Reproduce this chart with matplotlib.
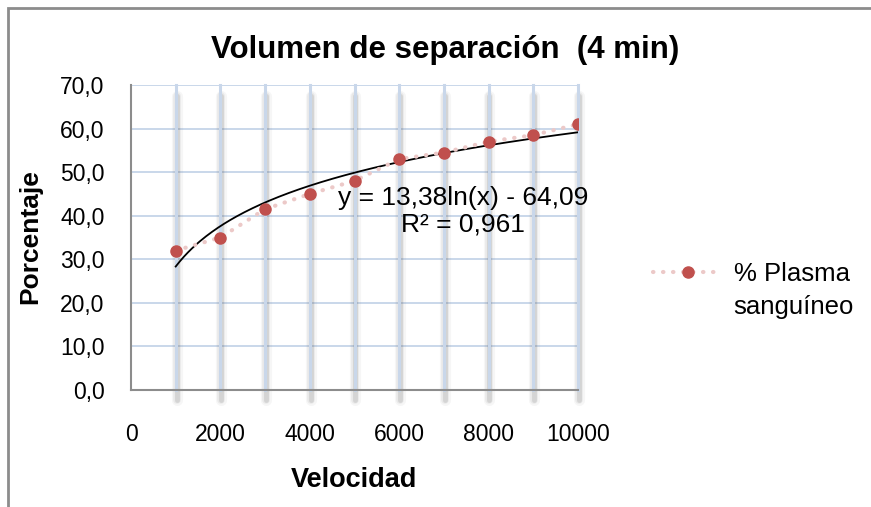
import numpy as np
import matplotlib
matplotlib.use("Agg")
import matplotlib.pyplot as plt
from matplotlib.patches import Rectangle

plt.rcParams['font.family'] = ['Liberation Sans', 'DejaVu Sans']

velocidad = [1000, 2000, 3000, 4000, 5000, 6000, 7000, 8000, 9000, 10000]
plasma = [32.0, 35.0, 41.5, 45.0, 48.0, 53.0, 54.5, 57.0, 58.5, 61.0]
x_ticks = [0, 2000, 4000, 6000, 8000, 10000]
y_ticks = [0, 10, 20, 30, 40, 50, 60, 70]

fig = plt.figure(figsize=(8.71, 5.07), dpi=100)
ax = fig.add_axes([131/871, 1 - 390/507, (578 - 131)/871, (390 - 85)/507])

ax.set_xlim(0, 10000)
ax.set_ylim(0, 70)

# horizontal gridlines
for yv in y_ticks[1:]:
    ax.axhline(yv, color='#c9d7ea', lw=1.4, zorder=1)

# vertical gridlines with soft shadow
for xv in velocidad:
    for w, a in [(8, 0.05), (5.5, 0.08), (3.5, 0.14)]:
        ax.plot([xv + 20, xv + 20], [67.5, -2.4], color='#555555', lw=w, alpha=a,
                solid_capstyle='round', clip_on=False, zorder=1)
    ax.plot([xv, xv], [0, 70], color='#c9d7ea', lw=2.2, zorder=2, clip_on=False)

# trendline (logarithmic fit)
a, b = np.polyfit(np.log(velocidad), plasma, 1)
xs = np.linspace(velocidad[0], velocidad[-1], 200)
ax.plot(xs, a * np.log(xs) + b, color='black', lw=1.3, zorder=4)

ax.plot(velocidad, plasma, color='#ecc9c8', lw=3, ls=(0, (0.1, 2.3)),
        dash_capstyle='round', marker='o', ms=8, mfc='#c0504d', mec='#c0504d',
        zorder=5, label='% Plasma')

ax.text(7430, 41.0, 'y = 13,38ln(x) - 64,09\nR² = 0,961', ha='center', va='center',
        fontsize=19, linespacing=1.1, zorder=6)

for s in ['top', 'right']:
    ax.spines[s].set_visible(False)
for s in ['left', 'bottom']:
    ax.spines[s].set_color('#8c8c8c')
    ax.spines[s].set_linewidth(1.5)
    ax.spines[s].set_zorder(3)

ax.set_xticks(x_ticks)
ax.set_xticklabels([str(v) for v in x_ticks])
ax.set_yticks(y_ticks)
ax.set_yticklabels([f'{v:.1f}'.replace('.', ',') for v in y_ticks])
ax.tick_params(axis='both', length=0, labelsize=16.5)
ax.tick_params(axis='x', pad=24)
ax.tick_params(axis='y', pad=19)

fig.text(354/871, 1 - 480/507, 'Velocidad', fontsize=19.5, fontweight='bold',
         ha='center', va='center')
fig.text(30/871, 1 - 237/507, 'Porcentaje', fontsize=19, fontweight='bold',
         ha='center', va='center', rotation=90)
fig.text(445/871, 1 - 58/507, 'Volumen de separación  (4 min)', fontsize=22.5,
         fontweight='bold', ha='center', va='baseline')

ax.legend(loc='center left', bbox_to_anchor=(653/871, 1 - 274/507),
          bbox_transform=fig.transFigure, frameon=False, fontsize=18.5,
          handlelength=2.7, handletextpad=0.45, borderpad=0, borderaxespad=0)
fig.text(733/871, 1 - 314/507, 'sanguíneo', fontsize=18.5, ha='left', va='baseline')

fig.add_artist(Rectangle((8/871, -0.1), 1.2, 1.1 - 8/507, fill=False,
                         edgecolor='#8c8c8c', lw=2, transform=fig.transFigure))

fig.savefig('out.png', dpi=100)
